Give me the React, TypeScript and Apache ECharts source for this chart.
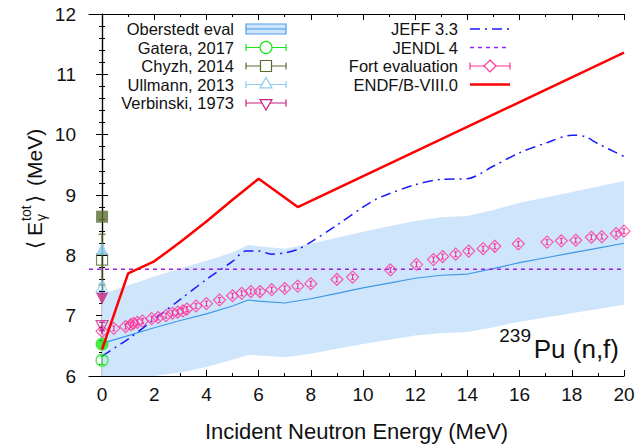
import React, { useEffect, useRef } from "react";
import * as echarts from "echarts";

const FONT = "'Liberation Sans', Arial, Helvetica, sans-serif";

// Axis ticks (MeV)
const xMajor = [0, 2, 4, 6, 8, 10, 12, 14, 16, 18, 20];
const xMinor = [1, 3, 5, 7, 9, 11, 13, 15, 17, 19];

// Oberstedt evaluation: central value and uncertainty band
const bandE = [0, 1, 2, 3, 4, 5, 5.6, 6, 7, 8, 9, 10, 11, 12, 13, 14, 15, 16, 17, 18, 19, 20];
const bandMid = [6.54, 6.67, 6.8, 6.92, 7.03, 7.16, 7.26, 7.24, 7.21, 7.28, 7.37, 7.46, 7.54, 7.62, 7.67, 7.69, 7.78, 7.88, 7.96, 8.04, 8.12, 8.2];
const bandHigh = [7.36, 7.5, 7.65, 7.78, 7.91, 8.05, 8.17, 8.15, 8.11, 8.19, 8.29, 8.39, 8.48, 8.57, 8.63, 8.65, 8.75, 8.87, 8.96, 9.05, 9.14, 9.23];
const bandLow = [5.72, 5.84, 5.95, 6.06, 6.15, 6.27, 6.35, 6.34, 6.31, 6.37, 6.45, 6.53, 6.6, 6.67, 6.71, 6.73, 6.81, 6.9, 6.97, 7.04, 7.11, 7.18];

// JEFF 3.3
const jeffE = [0, 0.5, 1, 2, 3, 4, 5, 5.5, 6, 6.5, 7, 7.5, 8, 9, 10, 10.5, 11, 12, 13, 14, 15, 16, 17, 18, 18.5, 19, 20];
const jeffV = [6.33, 6.47, 6.61, 6.94, 7.27, 7.6, 7.9, 8.07, 8.07, 8.02, 8.04, 8.1, 8.22, 8.5, 8.8, 8.93, 9.02, 9.17, 9.26, 9.27, 9.48, 9.7, 9.86, 9.99, 9.97, 9.85, 9.64];

// JENDL 4 (constant)
const jendlE = [-0.5, 20];
const jendlV = [7.77, 7.77];

// ENDF/B-VIII.0
const endfE = [0, 1, 2, 3, 4, 5, 6, 7.5, 20];
const endfV = [6.44, 7.7, 7.9, 8.22, 8.56, 8.92, 9.27, 8.8, 11.36];

// Fort evaluation
const fortE = [0, 0.45, 0.9, 1.1, 1.2, 1.35, 1.55, 1.9, 2.15, 2.45, 2.7, 2.9, 3.1, 3.25, 3.6, 4.0, 4.5, 5.0, 5.35, 5.7, 6.05, 6.5, 7.0, 7.5, 8.0, 9.0, 9.6, 11.05, 12.05, 12.7, 13.05, 13.55, 14.05, 14.6, 15.05, 15.95, 17.05, 17.6, 18.15, 18.75, 19.15, 19.7, 20.0];
const fortV = [6.74, 6.79, 6.82, 6.85, 6.87, 6.89, 6.91, 6.95, 6.97, 7.0, 7.04, 7.06, 7.08, 7.11, 7.16, 7.2, 7.26, 7.33, 7.37, 7.4, 7.4, 7.43, 7.45, 7.49, 7.53, 7.6, 7.64, 7.76, 7.85, 7.93, 7.98, 8.02, 8.07, 8.11, 8.15, 8.19, 8.22, 8.24, 8.25, 8.3, 8.31, 8.36, 8.4];
const fortErr = 0.04;

// Thermal-point measurements: [E, value, uncertainty]
const gatera = [[0, 6.26, 0.07]];
const gateraAlt = [[0, 6.53]];
const chyzh = [[0, 7.93, 0.42]];
const chyzhAlt = [[0, 8.64]];
const ullmann = [[0, 7.48, 0.06]];
const ullmannAlt = [[0, 8.11]];
const verbinski = [[0, 6.82, 0.07]];
const verbinskiAlt = [[0, 7.28]];

// Legend labels
const legendLeft = ["Oberstedt eval", "Gatera, 2017", "Chyzh, 2014", "Ullmann, 2013", "Verbinski, 1973"];
const legendRight = ["JEFF 3.3", "JENDL 4", "Fort evaluation", "ENDF/B-VIII.0"];

const C = {
  band: "#cfe5fb",
  bandEdge: "#4d9fec",
  mid: "#3d98e8",
  gatera: "#19e619",
  chyzh: "#5a6e30",
  ullmann: "#8ccbf0",
  verbinski: "#c8207f",
  jeff: "#1a1aff",
  jendl: "#a020f0",
  fort: "#ff3399",
  endf: "#ff0000",
};

function errorBars(name: string, data: number[][], color: string, cap: number, z: number) {
  return {
    type: "custom",
    name,
    silent: true,
    clip: false,
    z,
    data,
    encode: { x: 0, y: 1 },
    renderItem: (_p: any, api: any) => {
      const x = api.value(0);
      const y = api.value(1);
      const e = api.value(2);
      const a = api.coord([x, y + e]);
      const b = api.coord([x, y - e]);
      const style = { stroke: color, lineWidth: 1.2, fill: "none" };
      return {
        type: "group",
        children: [
          { type: "line", shape: { x1: a[0], y1: a[1], x2: b[0], y2: b[1] }, style },
          { type: "line", shape: { x1: a[0] - cap, y1: a[1], x2: a[0] + cap, y2: a[1] }, style },
          { type: "line", shape: { x1: b[0] - cap, y1: b[1], x2: b[0] + cap, y2: b[1] }, style },
        ],
      };
    },
  };
}

function triPts(cx: number, cy: number, s: number, down: boolean) {
  const h = s * 0.866;
  return down
    ? [[cx, cy + (h * 2) / 3], [cx - s / 2, cy - h / 3], [cx + s / 2, cy - h / 3]]
    : [[cx, cy - (h * 2) / 3], [cx - s / 2, cy + h / 3], [cx + s / 2, cy + h / 3]];
}

function label(text: string, x: number, y: number, size: number, align = "right") {
  return {
    type: "text",
    x,
    y,
    silent: true,
    style: {
      text,
      fill: "#111",
      font: `${size}px ${FONT}`,
      align,
      verticalAlign: "middle",
    },
  };
}

function errLegendLine(x0: number, x1: number, y: number, color: string) {
  const style = { stroke: color, lineWidth: 1.2 };
  return [
    { type: "line", silent: true, shape: { x1: x0, y1: y, x2: x1, y2: y }, style },
    { type: "line", silent: true, shape: { x1: x0, y1: y - 3.5, x2: x0, y2: y + 3.5 }, style },
    { type: "line", silent: true, shape: { x1: x1, y1: y - 3.5, x2: x1, y2: y + 3.5 }, style },
  ];
}

function buildLegend() {
  const els: any[] = [];
  const rowY = (i: number) => 29 + 18.5 * i;
  const fs = 16.5;
  // left block: label right-aligned, sample to its right
  const lt = 234, lx0 = 246, lx1 = 286, lc = 266;
  legendLeft.forEach((t, i) => els.push(label(t, lt, rowY(i), fs)));
  els.push({ type: "rect", silent: true, shape: { x: lx0, y: rowY(0) - 5, width: lx1 - lx0, height: 10 }, style: { fill: C.band, stroke: C.bandEdge, lineWidth: 1.2 } });
  els.push({ type: "line", silent: true, shape: { x1: lx0, y1: rowY(0), x2: lx1, y2: rowY(0) }, style: { stroke: C.mid, lineWidth: 1.2 } });

  els.push(...errLegendLine(lx0, lx1, rowY(1), C.gatera));
  els.push({ type: "circle", silent: true, shape: { cx: lc, cy: rowY(1), r: 6 }, style: { fill: "#fff", stroke: C.gatera, lineWidth: 1.2 } });

  els.push(...errLegendLine(lx0, lx1, rowY(2), C.chyzh));
  els.push({ type: "rect", silent: true, shape: { x: lc - 5.5, y: rowY(2) - 5.5, width: 11, height: 11 }, style: { fill: "#fff", stroke: C.chyzh, lineWidth: 1.2 } });

  els.push(...errLegendLine(lx0, lx1, rowY(3), C.ullmann));
  els.push({ type: "polygon", silent: true, shape: { points: triPts(lc, rowY(3), 12, false) }, style: { fill: "#fff", stroke: C.ullmann, lineWidth: 1.2 } });

  els.push(...errLegendLine(lx0, lx1, rowY(4), C.verbinski));
  els.push({ type: "polygon", silent: true, shape: { points: triPts(lc, rowY(4), 12, true) }, style: { fill: "#fff", stroke: C.verbinski, lineWidth: 1.2 } });

  // right block
  const rt = 458, rx0 = 470, rx1 = 510, rc = 490;
  legendRight.forEach((t, i) => els.push(label(t, rt, rowY(i), fs)));
  els.push({ type: "line", silent: true, shape: { x1: rx0, y1: rowY(0), x2: rx1, y2: rowY(0) }, style: { stroke: C.jeff, lineWidth: 1.4, lineDash: [10, 5, 2, 5] } });
  els.push({ type: "line", silent: true, shape: { x1: rx0, y1: rowY(1), x2: rx1, y2: rowY(1) }, style: { stroke: C.jendl, lineWidth: 1.4, lineDash: [4, 4] } });
  els.push(...errLegendLine(rx0, rx1, rowY(2), C.fort));
  els.push({ type: "polygon", silent: true, shape: { points: [[rc, rowY(2) - 6], [rc + 6, rowY(2)], [rc, rowY(2) + 6], [rc - 6, rowY(2)]] }, style: { fill: "#fff", stroke: C.fort, lineWidth: 1.2 } });
  els.push({ type: "line", silent: true, shape: { x1: rx0, y1: rowY(3), x2: rx1, y2: rowY(3) }, style: { stroke: C.endf, lineWidth: 2.5 } });
  return els;
}

// Rotated y-axis title: <E_gamma^tot> (MeV)
function buildYTitle() {
  return {
    type: "group",
    x: 34,
    y: 249,
    rotation: Math.PI / 2,
    silent: true,
    children: [
      label("\u27E8", 0, 0, 21, "left"),
      label("E", 13, 0, 21, "left"),
      label("tot", 28, -8, 14, "left"),
      label("\u03B3", 28, 7, 14, "left"),
      label("\u27E9", 46, 0, 21, "left"),
      label("(MeV)", 63, 0, 21, "left"),
    ],
  };
}

function buildNuclide() {
  return [
    label("239", 531, 335, 19),
    label("Pu (n,f)", 619, 349, 26),
  ];
}

const pairs = (xs: number[], ys: number[]) => xs.map((x, i) => [x, ys[i]]);

export default function App() {
  const ref = useRef<HTMLDivElement>(null);

  useEffect(() => {
    if (!ref.current) return;
    const chart = echarts.init(ref.current, null, { renderer: "svg" });

    const axisLine = { show: true, lineStyle: { color: "#000", width: 1.2 } };
    const tickMajor = (vals: number[]) => ({ show: true, inside: true, length: 6, customValues: vals, lineStyle: { color: "#000", width: 1 } });
    const tickMinor = (vals: number[]) => ({ show: true, inside: true, length: 3, customValues: vals, lineStyle: { color: "#000", width: 1 } });
    const baseX = { type: "value", min: -0.5, max: 20, splitLine: { show: false }, gridIndex: 0 };
    const baseY = {
      type: "value",
      min: 6,
      max: 12,
      interval: 1,
      splitLine: { show: false },
      axisTick: { show: true, inside: true, length: 6, lineStyle: { color: "#000" } },
      minorTick: { show: true, splitNumber: 5, length: 3, lineStyle: { color: "#000" } },
      minorSplitLine: { show: false },
    };

    chart.setOption({
      animation: false,
      backgroundColor: "#fff",
      grid: { left: 89, right: 17, top: 14, bottom: 70 },
      xAxis: [
        {
          ...baseX,
          position: "bottom",
          axisLine,
          axisTick: tickMajor(xMajor),
          axisLabel: { show: true, customValues: xMajor, fontSize: 19, fontFamily: FONT, color: "#111", margin: 9 },
          name: "Incident Neutron Energy (MeV)",
          nameLocation: "middle",
          nameGap: 44,
          nameTextStyle: { fontSize: 22, fontFamily: FONT, color: "#111" },
        },
        { ...baseX, position: "bottom", axisLine: { show: false }, axisTick: tickMinor(xMinor), axisLabel: { show: false } },
        { ...baseX, position: "top", axisLine, axisTick: tickMajor(xMajor), axisLabel: { show: false } },
        { ...baseX, position: "top", axisLine: { show: false }, axisTick: tickMinor(xMinor), axisLabel: { show: false } },
      ],
      yAxis: [
        {
          ...baseY,
          position: "left",
          axisLine,
          axisLabel: { show: true, fontSize: 19, fontFamily: FONT, color: "#111", margin: 13 },
        },
        { ...baseY, position: "right", axisLine, axisLabel: { show: false } },
      ],
      series: [
        {
          type: "custom",
          name: "Oberstedt eval",
          silent: true,
          clip: true,
          z: 1,
          data: [[0, 7]],
          encode: { x: 0, y: 1 },
          renderItem: (params: any, api: any) => {
            const pts: number[][] = [];
            bandE.forEach((e, i) => pts.push(api.coord([e, bandHigh[i]])));
            for (let i = bandE.length - 1; i >= 0; i--) pts.push(api.coord([bandE[i], bandLow[i]]));
            const cs = params.coordSys;
            const clipped = echarts.graphic.clipPointsByRect(pts, { x: cs.x, y: cs.y, width: cs.width, height: cs.height });
            return { type: "polygon", shape: { points: clipped }, style: { fill: C.band } };
          },
        },
        {
          type: "line",
          name: "Oberstedt eval",
          data: pairs(bandE, bandMid),
          showSymbol: false,
          smooth: false,
          z: 2,
          lineStyle: { color: C.mid, width: 1.2 },
        },
        {
          type: "line",
          name: "JENDL 4",
          data: pairs(jendlE, jendlV),
          showSymbol: false,
          z: 3,
          lineStyle: { color: C.jendl, width: 1.4, type: [4, 4] },
        },
        {
          type: "line",
          name: "JEFF 3.3",
          data: pairs(jeffE, jeffV),
          showSymbol: false,
          smooth: 0.3,
          z: 4,
          lineStyle: { color: C.jeff, width: 1.5, type: [10, 5, 2, 5] },
        },
        errorBars("Fort evaluation", fortE.map((e, i) => [e, fortV[i], fortErr]), C.fort, 1.5, 5),
        {
          type: "scatter",
          name: "Fort evaluation",
          data: pairs(fortE, fortV),
          symbol: "diamond",
          symbolSize: [12, 12],
          clip: false,
          z: 6,
          itemStyle: { color: "rgba(0,0,0,0)", borderColor: C.fort, borderWidth: 1.2 },
        },
        // thermal measurements
        errorBars("Chyzh, 2014", chyzh, C.chyzh, 3.5, 7),
        { type: "scatter", name: "Chyzh, 2014", data: chyzh.map((d) => [d[0], d[1]]), symbol: "rect", symbolSize: 11, clip: false, z: 8, itemStyle: { color: "rgba(0,0,0,0)", borderColor: C.chyzh, borderWidth: 1.2 } },
        { type: "scatter", name: "Chyzh, 2014 (alt)", data: chyzhAlt, symbol: "rect", symbolSize: 12, clip: false, z: 8, itemStyle: { color: C.chyzh } },
        errorBars("Ullmann, 2013", ullmann, C.ullmann, 3, 7),
        { type: "scatter", name: "Ullmann, 2013", data: ullmann.map((d) => [d[0], d[1]]), symbol: "triangle", symbolSize: 12, clip: false, z: 8, itemStyle: { color: "rgba(0,0,0,0)", borderColor: C.ullmann, borderWidth: 1.2 } },
        { type: "scatter", name: "Ullmann, 2013 (alt)", data: ullmannAlt, symbol: "triangle", symbolSize: 12, clip: false, z: 8, itemStyle: { color: C.ullmann } },
        errorBars("Verbinski, 1973", verbinski, C.verbinski, 3, 7),
        { type: "scatter", name: "Verbinski, 1973", data: verbinski.map((d) => [d[0], d[1]]), symbol: "triangle", symbolRotate: 180, symbolSize: 12, clip: false, z: 8, itemStyle: { color: "rgba(0,0,0,0)", borderColor: C.verbinski, borderWidth: 1.2 } },
        { type: "scatter", name: "Verbinski, 1973 (alt)", data: verbinskiAlt, symbol: "triangle", symbolRotate: 180, symbolSize: 12, clip: false, z: 8, itemStyle: { color: C.verbinski } },
        errorBars("Gatera, 2017", gatera, C.gatera, 2.5, 7),
        { type: "scatter", name: "Gatera, 2017", data: gatera.map((d) => [d[0], d[1]]), symbol: "circle", symbolSize: 12, clip: false, z: 8, itemStyle: { color: "rgba(0,0,0,0)", borderColor: C.gatera, borderWidth: 1.2 } },
        { type: "scatter", name: "Gatera, 2017 (alt)", data: gateraAlt, symbol: "circle", symbolSize: 13, clip: false, z: 8, itemStyle: { color: C.gatera } },
        {
          type: "line",
          name: "ENDF/B-VIII.0",
          data: pairs(endfE, endfV),
          showSymbol: false,
          z: 9,
          lineStyle: { color: C.endf, width: 2.5 },
        },
      ],
      graphic: [...buildLegend(), buildYTitle(), ...buildNuclide()],
    });

    return () => chart.dispose();
  }, []);

  return <div ref={ref} style={{ position: "fixed", left: 0, top: 0, width: 641, height: 447 }} />;
}
